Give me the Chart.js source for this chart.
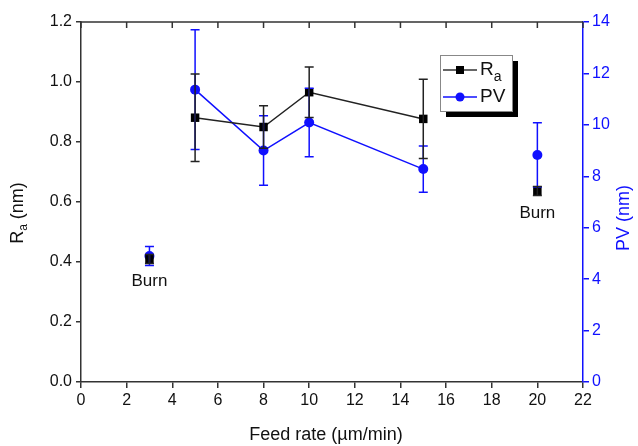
<!DOCTYPE html>
<html>
<head>
<meta charset="utf-8">
<script src="https://cdn.jsdelivr.net/npm/chart.js@4"></script>
<style>
  html, body { margin: 0; padding: 0; background: #fff; }
  #wrap { width: 638px; height: 446px; }
</style>
</head>
<body>
<div id="wrap"><canvas id="feedChart" width="638" height="446"></canvas></div>
<script>
// values
const feedRates = [5, 8, 10, 15];
const raValues = [0.881, 0.85, 0.966, 0.877];
const raErrors = [0.146, 0.071, 0.084, 0.132];
const pvValues = [11.37, 9.0, 10.09, 8.28];
const pvErrors = [2.33, 1.35, 1.33, 0.9];

// "Burn" points, not joined by lines
const burnRates = [3, 20];
const burnRa = [0.41, 0.637];
const burnRaErrors = [0.015, 0.015];
const burnPv = [4.9, 8.83];
const burnPvErrors = [0.37, 1.25];
const burnLabels = ['Burn', 'Burn'];

const xTicks = { min: 0, max: 22, step: 2 };
const raTicks = { min: 0, max: 1.2, step: 0.2 };
const pvTicks = { min: 0, max: 14, step: 2 };

const BLUE = '#1010ff';
const FONT = '"Liberation Sans", Arial, sans-serif';

const toPoints = (xs, ys) => xs.map((x, i) => ({ x: x, y: ys[i] }));

// error bars, drawn through the chart's scales
const errorBars = {
  id: 'errorBars',
  afterDatasetsDraw(chart) {
    const ctx = chart.ctx;
    chart.data.datasets.forEach((ds, di) => {
      if (!ds.errors) return;
      const yScale = chart.scales[ds.yAxisID];
      const xScale = chart.scales.x;
      ctx.save();
      ctx.strokeStyle = ds.borderColor;
      ctx.lineWidth = 1.5;
      ds.data.forEach((p, i) => {
        const px = xScale.getPixelForValue(p.x);
        const top = yScale.getPixelForValue(p.y + ds.errors[i]);
        const bot = yScale.getPixelForValue(p.y - ds.errors[i]);
        ctx.beginPath();
        ctx.moveTo(px, top); ctx.lineTo(px, bot);
        ctx.moveTo(px - 4.5, top); ctx.lineTo(px + 4.5, top);
        ctx.moveTo(px - 4.5, bot); ctx.lineTo(px + 4.5, bot);
        ctx.stroke();
      });
      ctx.restore();
    });
  }
};

// frame, titles, annotations and the boxed legend
const decorations = {
  id: 'decorations',
  afterDraw(chart) {
    const ctx = chart.ctx;
    const a = chart.chartArea;
    const xs = chart.scales.x;
    ctx.save();

    // top frame with inward ticks
    ctx.strokeStyle = '#333';
    ctx.lineWidth = 1.5;
    ctx.beginPath();
    ctx.moveTo(a.left, a.top); ctx.lineTo(a.right, a.top);
    xs.ticks.forEach(t => {
      const px = xs.getPixelForValue(t.value);
      ctx.moveTo(px, a.top); ctx.lineTo(px, a.top + 6);
    });
    ctx.stroke();

    // Burn labels
    ctx.fillStyle = '#111';
    ctx.font = '17px ' + FONT;
    ctx.textAlign = 'center';
    ctx.textBaseline = 'middle';
    burnRates.forEach((r, i) => {
      const px = xs.getPixelForValue(r);
      const py = chart.scales.y.getPixelForValue(burnRa[i]) + 22;
      ctx.fillText(burnLabels[i], px, py);
    });

    // x title
    ctx.font = '18px ' + FONT;
    ctx.fillText('Feed rate (\u00b5m/min)', 326, 435);

    // left title with subscript
    ctx.save();
    ctx.translate(18, 213);
    ctx.rotate(-Math.PI / 2);
    ctx.textAlign = 'left';
    ctx.textBaseline = 'middle';
    ctx.font = '18px ' + FONT;
    const w1 = ctx.measureText('R').width;
    ctx.font = '12px ' + FONT;
    const w2 = ctx.measureText('a').width;
    ctx.font = '18px ' + FONT;
    const w3 = ctx.measureText(' (nm)').width;
    let sx = -(w1 + w2 + w3) / 2;
    ctx.fillText('R', sx, 0);
    ctx.font = '12px ' + FONT;
    ctx.fillText('a', sx + w1, 6);
    ctx.font = '18px ' + FONT;
    ctx.fillText(' (nm)', sx + w1 + w2, 0);
    ctx.restore();

    // right title
    ctx.save();
    ctx.translate(624, 218);
    ctx.rotate(-Math.PI / 2);
    ctx.fillStyle = BLUE;
    ctx.font = '18px ' + FONT;
    ctx.textAlign = 'center';
    ctx.textBaseline = 'middle';
    ctx.fillText('PV (nm)', 0, 0);
    ctx.restore();

    // legend box with shadow
    const bx = 440, by = 55, bw = 72, bh = 56;
    ctx.fillStyle = '#000';
    ctx.fillRect(bx + 6, by + 6, bw, bh);
    ctx.fillStyle = '#fff';
    ctx.fillRect(bx, by, bw, bh);
    ctx.strokeStyle = '#888';
    ctx.lineWidth = 1;
    ctx.strokeRect(bx + 0.5, by + 0.5, bw, bh);

    const rows = [
      { y: by + 15, color: '#333', marker: 'square' },
      { y: by + 42, color: BLUE, marker: 'circle' }
    ];
    rows.forEach(r => {
      ctx.strokeStyle = r.color;
      ctx.lineWidth = 1.5;
      ctx.beginPath();
      ctx.moveTo(bx + 3, r.y); ctx.lineTo(bx + 37, r.y);
      ctx.stroke();
      ctx.fillStyle = r.marker === 'square' ? '#000' : BLUE;
      if (r.marker === 'square') {
        ctx.fillRect(bx + 16, r.y - 4, 8, 8);
      } else {
        ctx.beginPath();
        ctx.arc(bx + 20, r.y, 4.5, 0, Math.PI * 2);
        ctx.fill();
      }
    });
    ctx.fillStyle = '#111';
    ctx.textAlign = 'left';
    ctx.textBaseline = 'middle';
    ctx.font = '19px ' + FONT;
    ctx.fillText('R', bx + 40, rows[0].y);
    const rw = ctx.measureText('R').width;
    ctx.font = '14px ' + FONT;
    ctx.fillText('a', bx + 40 + rw, rows[0].y + 7);
    ctx.font = '19px ' + FONT;
    ctx.fillText('PV', bx + 40, rows[1].y);

    ctx.restore();
  }
};

const ctx = document.getElementById('feedChart').getContext('2d');
new Chart(ctx, {
  type: 'scatter',
  data: {
    datasets: [
      {
        label: 'PV',
        data: toPoints(feedRates, pvValues),
        errors: pvErrors,
        yAxisID: 'y2',
        showLine: true,
        borderColor: BLUE,
        backgroundColor: BLUE,
        borderWidth: 1.5,
        pointStyle: 'circle',
        pointRadius: 5,
        pointBorderWidth: 0,
        order: 2
      },
      {
        label: 'PV burn',
        data: toPoints(burnRates, burnPv),
        errors: burnPvErrors,
        yAxisID: 'y2',
        showLine: false,
        borderColor: BLUE,
        backgroundColor: BLUE,
        pointStyle: 'circle',
        pointRadius: 5,
        pointBorderWidth: 0,
        order: 2
      },
      {
        label: 'Ra',
        data: toPoints(feedRates, raValues),
        errors: raErrors,
        yAxisID: 'y',
        showLine: true,
        borderColor: '#222',
        backgroundColor: '#000',
        borderWidth: 1.5,
        pointStyle: 'rect',
        pointRadius: 6,
        pointBorderWidth: 0,
        order: 1
      },
      {
        label: 'Ra burn',
        data: toPoints(burnRates, burnRa),
        errors: burnRaErrors,
        yAxisID: 'y',
        showLine: false,
        borderColor: '#222',
        backgroundColor: '#000',
        pointStyle: 'rect',
        pointRadius: 6,
        pointBorderWidth: 0,
        order: 1
      }
    ]
  },
  options: {
    responsive: false,
    animation: false,
    layout: { padding: { top: 22, left: 0, right: 0, bottom: 0 } },
    scales: {
      x: {
        type: 'linear',
        position: 'bottom',
        min: xTicks.min,
        max: xTicks.max,
        afterFit: s => { s.height = 64; },
        ticks: {
          stepSize: xTicks.step,
          color: '#111',
          font: { size: 16, family: FONT },
          padding: 3,
          maxRotation: 0
        },
        grid: { drawOnChartArea: false, drawTicks: true, tickLength: 6, color: '#333', lineWidth: 1.5 },
        border: { color: '#333', width: 1.5 }
      },
      y: {
        position: 'left',
        min: raTicks.min,
        max: raTicks.max,
        afterFit: s => { s.width = 81; },
        ticks: {
          stepSize: raTicks.step,
          color: '#111',
          font: { size: 16, family: FONT },
          padding: 4,
          callback: v => v.toFixed(1)
        },
        grid: { drawOnChartArea: false, drawTicks: true, tickLength: 5, color: '#333', lineWidth: 1.5 },
        border: { color: '#333', width: 1.5 }
      },
      y2: {
        position: 'right',
        min: pvTicks.min,
        max: pvTicks.max,
        afterFit: s => { s.width = 55; },
        ticks: {
          stepSize: pvTicks.step,
          color: BLUE,
          font: { size: 16, family: FONT },
          padding: 3
        },
        grid: { drawOnChartArea: false, drawTicks: true, tickLength: 6, color: BLUE, lineWidth: 1.5 },
        border: { color: BLUE, width: 1.5 }
      }
    },
    plugins: {
      legend: { display: false },
      tooltip: { enabled: false }
    }
  },
  plugins: [errorBars, decorations]
});
</script>
</body>
</html>
